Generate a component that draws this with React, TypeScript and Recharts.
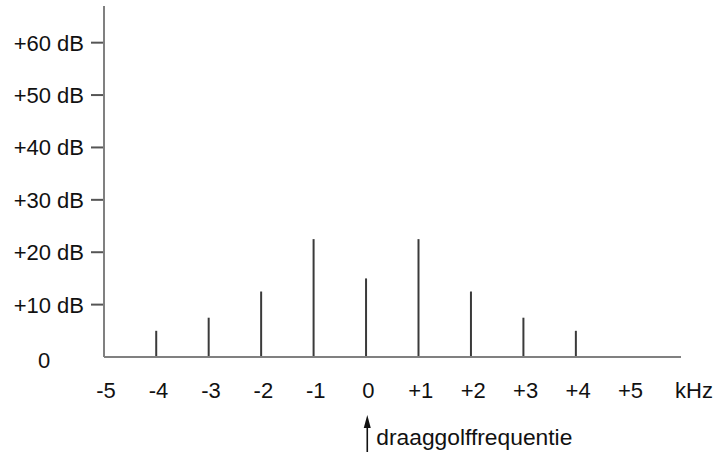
import React from "react";
import { ComposedChart, Bar, XAxis, YAxis } from "recharts";

const freqs = [-4, -3, -2, -1, 0, 1, 2, 3, 4];
const levels = [5, 7.5, 12.5, 22.5, 15, 22.5, 12.5, 7.5, 5];
const xTicks = [-5, -4, -3, -2, -1, 0, 1, 2, 3, 4, 5, 6];
const xTickLabels = ["-5", "-4", "-3", "-2", "-1", "0", "+1", "+2", "+3", "+4", "+5", "kHz"];
const yTicks = [0, 10, 20, 30, 40, 50, 60];
const yTickLabels = ["0", "+10 dB", "+20 dB", "+30 dB", "+40 dB", "+50 dB", "+60 dB"];
const annotation = "draaggolffrequentie";

const data = freqs.map((f, i) => ({ f, db: levels[i] }));

const FONT = "'Liberation Sans', Arial, sans-serif";

const XTick = (props: any) => {
  const { x, y, payload } = props;
  const idx = xTicks.indexOf(payload.value);
  const label = xTickLabels[idx];
  const isUnit = label === "kHz";
  return (
    <g>
      <text
        x={isUnit ? x + 13 : x + 2}
        y={y + 41}
        textAnchor="middle"
        fontFamily={FONT}
        fontSize={22}
        fill="#111"
      >
        {label}
      </text>
      {payload.value === 0 && (
        <g>
          <line x1={x + 1} y1={y + 68} x2={x + 1} y2={y + 100} stroke="#111" strokeWidth={1.6} />
          <polygon
            points={`${x + 1},${y + 58} ${x - 2.5},${y + 71} ${x + 4.5},${y + 71}`}
            fill="#111"
          />
          <text x={x + 10} y={y + 88} textAnchor="start" fontFamily={FONT} fontSize={22.8} fill="#111">
            {annotation}
          </text>
        </g>
      )}
    </g>
  );
};

const YTick = (props: any) => {
  const { x, y, payload } = props;
  const idx = yTicks.indexOf(payload.value);
  const label = yTickLabels[idx];
  if (payload.value === 0) {
    return (
      <text x={x - 60} y={y + 11} textAnchor="middle" fontFamily={FONT} fontSize={22} fill="#111">
        {label}
      </text>
    );
  }
  return (
    <g>
      <line x1={x - 13} y1={y} x2={x - 1} y2={y} stroke="#555" strokeWidth={2} />
      <text x={x - 20} y={y + 8} textAnchor="end" fontFamily={FONT} fontSize={22} fill="#111">
        {label}
      </text>
    </g>
  );
};

export default function App() {
  return (
    <div style={{ position: "absolute", left: 0, top: 0, width: 723, height: 452, background: "#fff" }}>
      <ComposedChart
        width={723}
        height={452}
        data={data}
        margin={{ top: 6, right: 42, bottom: 0, left: 0 }}
      >
        <XAxis
          dataKey="f"
          type="number"
          domain={[-5, 6]}
          ticks={xTicks}
          interval={0}
          height={95}
          tickSize={0}
          tickMargin={0}
          tickLine={false}
          axisLine={{ stroke: "#808080", strokeWidth: 2 }}
          tick={<XTick />}
          allowDataOverflow
        />
        <YAxis
          type="number"
          domain={[0, 67]}
          ticks={yTicks}
          interval={0}
          width={104}
          tickSize={0}
          tickMargin={0}
          tickLine={false}
          axisLine={{ stroke: "#808080", strokeWidth: 2 }}
          tick={<YTick />}
          allowDataOverflow
        />
        <Bar dataKey="db" fill="#3a3a3a" barSize={2} isAnimationActive={false} />
      </ComposedChart>
    </div>
  );
}
